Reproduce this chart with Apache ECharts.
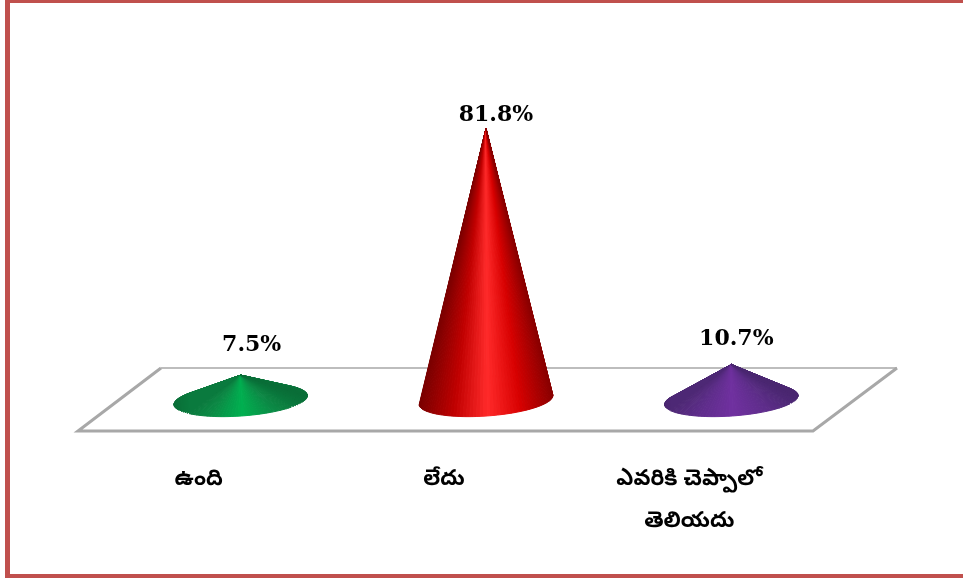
<!DOCTYPE html>
<html>
<head>
<meta charset="utf-8">
<style>html,body{margin:0;padding:0;background:#fff}#main{width:963px;height:578px}</style>
<script src="https://cdn.jsdelivr.net/npm/echarts@6/dist/echarts.min.js"></script>
</head>
<body>
<div id="main"></div>
<script>
var categories = ['ఉంది', 'లేదు', 'ఎవరికి చెప్పాలో\nతెలియదు'];
var values = [7.5, 81.8, 10.7];
var shades = [
    ['#0a6e38', '#0b8a45', '#00b050', '#0b8a45', '#0a6e38'],
    ['#7a0000', '#c00000', '#ff2a2a', '#d80000', '#8a0000'],
    ['#4a2770', '#5f2d8c', '#7030a0', '#5f2d8c', '#4a2770']
];
var labelRise = [30, 13, 25];
var labelShift = [11, 10, 5];
var chart = echarts.init(document.getElementById('main'));

// cone = fan of thin triangles from the tip to the front of a slightly tilted base ellipse
var renderCone = function (params, api) {
    var i = params.dataIndex;
    var v = api.value(1);
    var tip = api.coord([i, v]);
    var base = api.coord([i, 0]);
    var rx = 67, ry = 16, tilt = -0.07;
    var point = function (t) {
        var x = rx * Math.cos(t), y = ry * Math.sin(t);
        return [base[0] + x * Math.cos(tilt) - y * Math.sin(tilt), base[1] + x * Math.sin(tilt) + y * Math.cos(tilt)];
    };
    var n = 120, pts = [], k;
    for (k = 0; k <= n; k++) {
        var a = point(Math.PI * 2 * k / n), b = point(Math.PI * 2 * (k + 1) / n);
        var cross = (b[0] - a[0]) * (tip[1] - a[1]) - (b[1] - a[1]) * (tip[0] - a[0]);
        if (cross >= 0) pts.push(a);
    }
    // walk the visible arc from left to right
    pts.sort(function (p, q) { return p[0] - q[0]; });
    var children = [];
    for (k = 0; k < pts.length - 1; k++) {
        var f = (pts[k][0] - (base[0] - rx)) / (2 * rx);
        var c = echarts.color.lerp(Math.max(0, Math.min(1, f)), shades[i]);
        children.push({
            type: 'polygon',
            shape: { points: [tip, pts[k], pts[k + 1]] },
            style: { fill: c, stroke: c, lineWidth: 1 }
        });
    }
    children.push({
        type: 'text',
        style: {
            x: tip[0] + labelShift[i],
            y: tip[1] - labelRise[i],
            text: v.toFixed(1) + '%',
            fill: '#000',
            font: 'bold 22px "DejaVu Serif", "Liberation Serif", serif',
            align: 'center',
            verticalAlign: 'middle'
        }
    });
    return { type: 'group', children: children };
};

chart.setOption({
    animation: false,
    backgroundColor: '#fff',
    grid: { left: 118, right: 109, top: 68, bottom: 178 },
    xAxis: {
        type: 'category',
        data: categories,
        axisLine: { show: false },
        axisTick: { show: false },
        axisLabel: {
            interval: 0,
            margin: 61,
            padding: [0, 84, 0, 0],
            lineHeight: 42,
            color: '#000',
            fontSize: 22,
            fontWeight: 'bold',
            fontFamily: '"Noto Sans Telugu", "Noto Sans", serif'
        }
    },
    yAxis: { type: 'value', min: 0, max: 100, show: false },
    graphic: [
        { type: 'rect', z: 0, shape: { x: 5, y: 0, width: 5, height: 578 }, style: { fill: '#c0504d' } },
        { type: 'rect', z: 0, shape: { x: 5, y: 0, width: 958, height: 3 }, style: { fill: '#c0504d' } },
        { type: 'rect', z: 0, shape: { x: 5, y: 574, width: 958, height: 4 }, style: { fill: '#c0504d' } },
        { type: 'polyline', z: 1, shape: { points: [[161, 368], [897, 368]] }, style: { stroke: '#bdbdbd', lineWidth: 2, fill: 'none' } },
        { type: 'polyline', z: 1, shape: { points: [[161, 368], [78, 431], [813, 431], [897, 368]] }, style: { stroke: '#a8a8a8', lineWidth: 3, fill: 'none' } }
    ],
    series: [{
        type: 'custom',
        coordinateSystem: 'cartesian2d',
        renderItem: renderCone,
        encode: { x: 0, y: 1 },
        data: values.map(function (v, i) { return [i, v]; })
    }]
});
</script>
</body>
</html>
